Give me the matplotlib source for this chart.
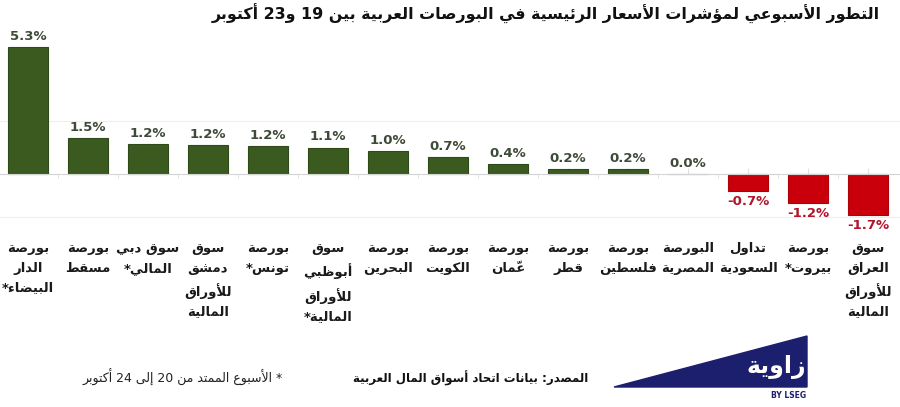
import numpy as np
import matplotlib.pyplot as plt
from matplotlib.patches import Polygon

plt.rcParams['font.family'] = ['DejaVu Sans']

# data (left to right, as in the picture)
markets = ["بورصة\nالدار\nالبيضاء*", "بورصة\nمسقط", "سوق دبي\nالمالي*",
           "سوق\nدمشق\nللأوراق\nالمالية", "بورصة\nتونس*",
           "سوق\nأبوظبي\nللأوراق\nالمالية*", "بورصة\nالبحرين", "بورصة\nالكويت",
           "بورصة\nعمّان", "بورصة\nقطر", "بورصة\nفلسطين", "البورصة\nالمصرية",
           "تداول\nالسعودية", "بورصة\nبيروت*", "سوق\nالعراق\nللأوراق\nالمالية"]
changes = [5.3, 1.5, 1.24, 1.19, 1.16, 1.1, 0.97, 0.7, 0.4, 0.2, 0.2, 0.0, -0.7, -1.2, -1.7]

title = "التطور الأسبوعي لمؤشرات الأسعار الرئيسية في البورصات العربية بين 19 و23 أكتوبر"
source = "المصدر: بيانات اتحاد أسواق المال العربية"
note = "* الأسبوع الممتد من 20 إلى 24 أكتوبر"
logo = "زاوية"

# --- minimal arabic shaping + bidi (matplotlib draws glyphs left to right, unjoined)
_FORMS = {}
counts = ([(0x621, 1), (0x622, 2), (0x623, 2), (0x624, 2), (0x625, 2), (0x626, 4),
           (0x627, 2), (0x628, 4), (0x629, 2)]
          + [(c, 4) for c in range(0x62A, 0x62F)]
          + [(c, 2) for c in range(0x62F, 0x633)]
          + [(c, 4) for c in range(0x633, 0x63B)]
          + [(c, 4) for c in range(0x641, 0x648)]
          + [(0x648, 2), (0x649, 2), (0x64A, 4)])
base = 0xFE80
for cp, n in counts:
    _FORMS[chr(cp)] = [chr(base + k) for k in range(n)]
    base += n
_LAMALEF = {'\u0622': ['\uFEF5', '\uFEF6'], '\u0623': ['\uFEF7', '\uFEF8'],
            '\u0625': ['\uFEF9', '\uFEFA'], '\u0627': ['\uFEFB', '\uFEFC']}


def shape_line(s):
    items = []
    i = 0
    while i < len(s):
        ch = s[i]
        if '\u064B' <= ch <= '\u0652' and items:
            items[-1]['marks'] += ch
        elif ch == '\u0644' and i + 1 < len(s) and s[i + 1] in _LAMALEF:
            items.append({'forms': _LAMALEF[s[i + 1]], 'ch': ch, 'marks': ''})
            i += 1
        else:
            items.append({'forms': _FORMS.get(ch), 'ch': ch, 'marks': ''})
        i += 1
    out = []
    for k, it in enumerate(items):
        f = it['forms']
        if f is None:
            out.append(it['ch'] + it['marks'])
            continue
        prev = items[k - 1]['forms'] if k > 0 else None
        nxt = items[k + 1]['forms'] if k + 1 < len(items) else None
        jp = prev is not None and len(prev) == 4 and len(f) >= 2
        jn = nxt is not None and len(nxt) >= 2 and len(f) == 4
        g = f[3] if (jp and jn) else f[2] if jn else f[1] if jp else f[0]
        out.append(g + it['marks'])
    runs = []
    for gl in out:
        ltr = gl[0].isascii() and (gl[0].isalnum() or gl[0] in '%.')
        if runs and runs[-1][0] == ltr:
            runs[-1][1].append(gl)
        else:
            runs.append([ltr, [gl]])
    txt = ''
    for ltr, gls in reversed(runs):
        txt += ''.join(gls if ltr else reversed(gls))
    return txt


def ar(s):
    return '\n'.join(shape_line(line) for line in s.split('\n'))


green = '#3b5a1f'
red = '#c9000b'
navy = '#1c1f6e'

fig = plt.figure(figsize=(9, 4.07), dpi=100)
ax = fig.add_axes([0, (407 - 230) / 407, 1, 200 / 407])

x = np.arange(len(changes))
colors = [green if v >= 0 else red for v in changes]
edges = ['#2f4a18' if v >= 0 else '#b00008' for v in changes]
ax.bar(x, changes, width=0.67, color=colors, edgecolor=edges, linewidth=0.8, zorder=2)

for xi, v in zip(x, changes):
    if v >= 0:
        ax.annotate(f"{v:.1f}%", (xi, v), xytext=(0, 3), textcoords='offset points',
                    ha='center', va='bottom', fontsize=9.5, fontweight='bold', color='#3e4a38')
    else:
        ax.annotate(f"{v:.1f}%", (xi, v), xytext=(0, -3), textcoords='offset points',
                    ha='center', va='top', fontsize=9.5, fontweight='bold', color='#b3142a')

ax.set_xlim(-28 / 60, 872 / 60)
ax.set_ylim(-56 / 24, 144 / 24)

for s in ['top', 'left', 'right']:
    ax.spines[s].set_visible(False)
ax.spines['bottom'].set_position(('data', 0))
ax.spines['bottom'].set_color('#d4d4d4')
ax.spines['bottom'].set_zorder(3)

ax.set_xticks(x)
ax.set_xticklabels([ar(m) for m in markets], fontsize=9.5, fontweight='bold',
                   color='#1a1a1a', linespacing=1.65)
ax.tick_params(axis='x', which='major', direction='in', length=4, color='#e2e2e2',
               pad=49)
ax.set_xticks(x[:-1] + 0.5, minor=True)
ax.tick_params(axis='x', which='minor', direction='out', length=3, color='#dcdcdc')

ax.set_yticks([-1.8, 2.2])
ax.tick_params(axis='y', length=0, labelleft=False)
ax.grid(axis='y', color='#eeeeee', lw=0.8, zorder=0)

fig.text(880 / 900, 1 - 14 / 407, ar(title), ha='right', va='center',
         fontsize=11.4, fontweight='bold', color='#111111')
fig.text(588 / 900, 1 - 378 / 407, ar(source), ha='right', va='center',
         fontsize=8.5, fontweight='bold', color='#111111')
fig.text(283 / 900, 1 - 377 / 407, ar(note), ha='right', va='center',
         fontsize=9, color='#222222')

tri = Polygon([(614 / 900, 1 - 387 / 407), (807 / 900, 1 - 336 / 407), (807 / 900, 1 - 387 / 407)],
              closed=True, transform=fig.transFigure, color=navy)
fig.patches.append(tri)
fig.text(806 / 900, 1 - 367 / 407, ar(logo), ha='right', va='center',
         fontsize=17, fontweight='bold', color='white')
fig.text(806 / 900, 1 - 396 / 407, "BY LSEG", ha='right', va='center',
         fontsize=5.5, fontweight='bold', color=navy)

fig.savefig('out.png', dpi=100)
